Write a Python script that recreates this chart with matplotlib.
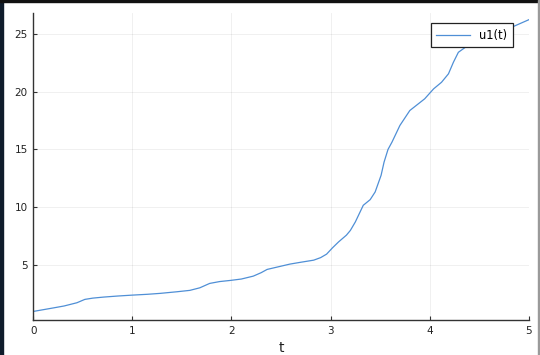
import matplotlib
matplotlib.use("Agg")
import matplotlib.pyplot as plt
from matplotlib.patches import Rectangle

t = [0, 0.1, 0.2, 0.31, 0.44, 0.52, 0.6, 0.71, 0.85, 1.0, 1.15, 1.28, 1.45, 1.58,
     1.68, 1.78, 1.88, 1.99, 2.1, 2.22, 2.3, 2.36, 2.46, 2.59, 2.7, 2.83, 2.9,
     2.96, 3.02, 3.08, 3.16, 3.2, 3.25, 3.33, 3.40, 3.45, 3.51, 3.54, 3.58, 3.62,
     3.70, 3.80, 3.95, 4.04, 4.12, 4.19, 4.24, 4.29, 4.37, 4.5, 4.7, 4.84, 5.0]
u1 = [1.0, 1.15, 1.3, 1.47, 1.75, 2.04, 2.15, 2.24, 2.33, 2.41, 2.48, 2.56, 2.7,
      2.82, 3.04, 3.42, 3.58, 3.68, 3.8, 4.05, 4.35, 4.63, 4.83, 5.09, 5.25, 5.43,
      5.65, 5.95, 6.5, 7.0, 7.59, 8.0, 8.73, 10.17, 10.66, 11.32, 12.76, 13.9,
      15.0, 15.63, 17.07, 18.36, 19.37, 20.23, 20.8, 21.53, 22.53, 23.39, 23.88,
      24.3, 25.0, 25.6, 26.2]
xticks = [0, 1, 2, 3, 4, 5]
yticks = [5, 10, 15, 20, 25]

fig = plt.figure(figsize=(5.4, 3.55), dpi=100)
ax = fig.add_axes([0.0617, 0.0986, 0.9174, 0.8656])

ax.plot(t, u1, color="#4f8fd6", lw=0.9, label="u1(t)")

ax.set_xlim(0, 5)
ax.set_ylim(0.26, 26.81)
ax.set_xticks(xticks)
ax.set_yticks(yticks)
ax.grid(True, color="#000000", alpha=0.07, lw=0.6)
for s in ["top", "right"]:
    ax.spines[s].set_visible(False)
for s in ["left", "bottom"]:
    ax.spines[s].set_color("#333333")
    ax.spines[s].set_linewidth(1.0)
ax.tick_params(direction="in", length=3, width=0.8, color="#333333",
               labelsize=7.5, labelcolor="#222222", pad=4)
ax.set_xlabel("t", fontsize=10, labelpad=4, color="#222222")

leg = ax.legend(loc="upper right", bbox_to_anchor=(0.968, 0.967), fontsize=8.3,
                fancybox=False, framealpha=1, edgecolor="#222222",
                handlelength=2.9, borderpad=0.5, borderaxespad=0)
leg.get_frame().set_linewidth(0.9)

# screenshot border
fig.add_artist(Rectangle((0, 0), 3 / 540, 1, transform=fig.transFigure,
                         color="#0f1c2b", zorder=10))
fig.add_artist(Rectangle((0, 1 - 2 / 355), 1, 2 / 355, transform=fig.transFigure,
                         color="#111111", zorder=10))
fig.add_artist(Rectangle((1 - 2 / 540, 0), 2 / 540, 1, transform=fig.transFigure,
                         color="#9a9a9a", zorder=10))

fig.savefig("out.png", dpi=100)
